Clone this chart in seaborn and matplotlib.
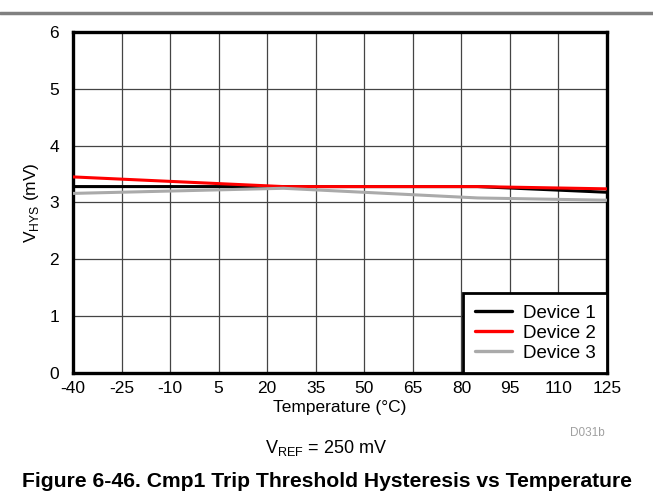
import pandas as pd
import numpy as np
import matplotlib
matplotlib.use('Agg')
import matplotlib.pyplot as plt
import seaborn as sns

sns.set_theme(style="white")
plt.rcParams['font.family'] = ['Liberation Sans', 'DejaVu Sans']
plt.rcParams['axes.unicode_minus'] = False
plt.rcParams['text.color'] = 'black'
plt.rcParams['axes.labelcolor'] = 'black'

# Veriler
temps = [-40, 25, 85, 125]
device1 = [3.28, 3.28, 3.28, 3.18]
device2 = [3.45, 3.28, 3.28, 3.24]
device3 = [3.16, 3.25, 3.08, 3.04]
series_names = ['Device 1', 'Device 2', 'Device 3']
x_ticks = [-40, -25, -10, 5, 20, 35, 50, 65, 80, 95, 110, 125]
y_ticks = [0, 1, 2, 3, 4, 5, 6]

df = pd.DataFrame({
    'Temperature': temps * 3,
    'VHYS': device1 + device2 + device3,
    'Device': [n for n in series_names for _ in temps],
})

fig = plt.figure(figsize=(6.53, 4.96), dpi=100)
ax = fig.add_axes([0.1118, 0.248, 0.8178, 0.6875])

palette = {'Device 1': '#000000', 'Device 2': '#ff0000', 'Device 3': '#aaaaaa'}
sns.lineplot(data=df, x='Temperature', y='VHYS', hue='Device', palette=palette,
             linewidth=2.2, ax=ax, zorder=3)

ax.set_xlim(-40, 125)
ax.set_ylim(0, 6)
ax.set_xticks(x_ticks)
ax.set_yticks(y_ticks)
ax.tick_params(axis='both', length=0, labelsize=12.5, colors='black')
ax.tick_params(axis='y', pad=10)
ax.tick_params(axis='x', pad=6)
ax.grid(True, color='#444444', linewidth=0.9)
for s in ax.spines.values():
    s.set_color('black')
    s.set_linewidth(2.4)
    s.set_visible(True)

ax.set_xlabel('Temperature (°C)', fontsize=12.5, labelpad=3)
ax.set_ylabel(r'V$_{\mathregular{HYS}}$ (mV)', fontsize=12.5, labelpad=6)

leg = ax.legend(loc='lower right', fontsize=13.5, frameon=True, fancybox=False,
                borderaxespad=0.0, handlelength=2.0, labelspacing=0.15,
                borderpad=0.6, handletextpad=0.57)
leg.get_frame().set_edgecolor('black')
leg.get_frame().set_linewidth(2.0)
leg.get_frame().set_alpha(1)
for line in leg.get_lines():
    line.set_linewidth(2.4)

fig.text(0.9, 0.128, 'D031b', fontsize=8.5, color='#a0a0a0', ha='center', va='center')
fig.text(0.5, 0.096, r'V$_{\mathregular{REF}}$ = 250 mV', fontsize=13, ha='center', va='center')
fig.text(0.5, 0.030, 'Figure 6-46. Cmp1 Trip Threshold Hysteresis vs Temperature',
         fontsize=15.2, fontweight='bold', ha='center', va='center')
fig.add_artist(plt.Line2D([0, 1], [0.973, 0.973], color='#808080', linewidth=2.5,
                          transform=fig.transFigure))

fig.savefig('out.png', dpi=100)
